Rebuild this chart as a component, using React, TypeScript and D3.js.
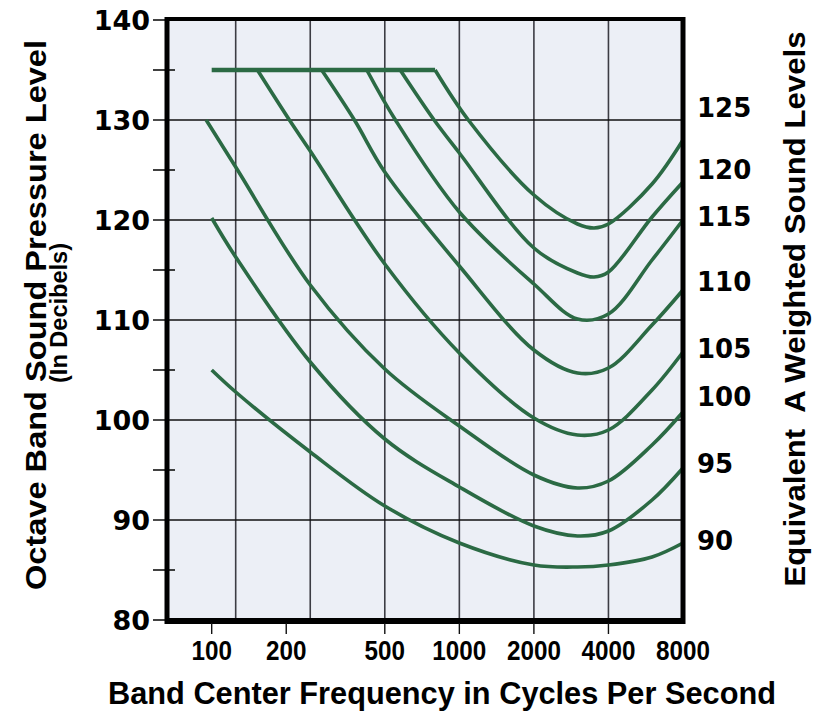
import { useEffect, useRef } from "react";
import * as d3 from "d3";

type Pt = [number, number];

const W = 813;
const H = 715;

// axes
const freqTicks = [100, 200, 500, 1000, 2000, 4000, 8000];
const freqGrid = [125, 250, 500, 1000, 2000, 4000];
const dbMajor = [80, 90, 100, 110, 120, 130, 140];
const dbMinor = [85, 95, 105, 115, 125, 135];

// equivalent A weighted level of each contour, and the left-scale dB where its label sits
const levels = [90, 95, 100, 105, 110, 115, 120, 125];
const levelLabelAt = [87.9, 95.6, 102.3, 107.1, 113.8, 120.3, 125.0, 131.2];

// 135 dB cap shared by the upper contours
const capLine: Pt[] = [
  [100, 135],
  [798, 135],
];

// contours: [frequency Hz, octave band level dB]
const c90: Pt[] = [
  [100, 105], [125, 102.8], [250, 96.8], [500, 91.4], [1000, 87.7],
  [2000, 85.5], [3000, 85.3], [4000, 85.5], [6000, 86.3], [8000, 87.7],
];
const c95: Pt[] = [
  [100, 120.2], [125, 116.3], [250, 105.8], [500, 98.1], [1000, 93.3],
  [2000, 89.4], [3000, 88.4], [4000, 88.9], [6000, 92.0], [8000, 95.2],
];
const c100: Pt[] = [
  [95, 130], [125, 125.3], [250, 113.5], [500, 105.1], [1000, 99.4],
  [2000, 94.5], [3000, 93.2], [4000, 93.9], [6000, 97.5], [8000, 100.8],
];
const c105: Pt[] = [
  [153, 135], [206, 130], [250, 126.9], [500, 115.6], [1000, 106.7],
  [2000, 100.2], [3000, 98.5], [4000, 99.0], [6000, 103.0], [8000, 106.8],
];
const c110: Pt[] = [
  [278, 135], [377, 130], [500, 124.8], [1000, 115.4], [2000, 107.0],
  [3000, 104.7], [4000, 105.2], [6000, 109.5], [8000, 113.0],
];
const c115: Pt[] = [
  [423, 135], [552, 130], [1000, 120.8], [2000, 113.6], [3000, 110.1],
  [4000, 110.6], [6000, 116.0], [8000, 120.0],
];
const c120: Pt[] = [
  [577, 135], [791, 130], [1000, 126.7], [2000, 117.2], [3000, 114.7],
  [3500, 114.3], [4000, 114.8], [6000, 120.3], [8000, 123.8],
];
const c125: Pt[] = [
  [798, 135], [1087, 130], [2000, 122.5], [3000, 119.6], [3500, 119.2],
  [4000, 119.6], [6000, 123.6], [8000, 128.0],
];

const contours = [c90, c95, c100, c105, c110, c115, c120, c125];

const GREEN = "#2b6a44";
const boldWide = "'DejaVu Sans', Verdana, sans-serif";
const narrow = "'Liberation Sans Narrow', 'Liberation Sans', Arial, sans-serif";
const plain = "'Liberation Sans', Arial, sans-serif";

export default function App() {
  const ref = useRef<SVGSVGElement | null>(null);

  useEffect(() => {
    document.body.style.margin = "0";
    if (!ref.current) return;
    const svg = d3.select(ref.current);
    svg.selectAll("*").remove();

    const x = d3.scaleLog().domain([66, 8000]).range([167, 683]);
    const y = d3.scaleLinear().domain([80, 140]).range([620, 20]);
    const [x0, x1] = x.range();
    const [y0, y1] = y.range();

    svg.append("rect").attr("width", W).attr("height", H).attr("fill", "#ffffff");
    svg
      .append("rect")
      .attr("x", x0)
      .attr("y", y1)
      .attr("width", x1 - x0)
      .attr("height", y0 - y1)
      .attr("fill", "#eceff6");

    // vertical grid at octave band centres
    svg
      .append("g")
      .selectAll("line")
      .data(freqGrid)
      .join("line")
      .attr("x1", (d) => x(d))
      .attr("x2", (d) => x(d))
      .attr("y1", y1)
      .attr("y2", y0)
      .attr("stroke", "#3c3c44")
      .attr("stroke-width", 1.6);

    // horizontal grid, carried out past the left border as major ticks
    svg
      .append("g")
      .selectAll("line")
      .data(dbMajor)
      .join("line")
      .attr("x1", x0 - 14)
      .attr("x2", (d) => (d === 80 || d === 140 ? x0 : x1))
      .attr("y1", (d) => y(d))
      .attr("y2", (d) => y(d))
      .attr("stroke", "#111")
      .attr("stroke-width", 1.6);

    svg
      .append("g")
      .selectAll("line")
      .data(dbMinor)
      .join("line")
      .attr("x1", x0 - 14)
      .attr("x2", x0 + 8)
      .attr("y1", (d) => y(d))
      .attr("y2", (d) => y(d))
      .attr("stroke", "#111")
      .attr("stroke-width", 1.6);

    // contours
    const line = d3
      .line<Pt>()
      .x((d) => x(d[0]))
      .y((d) => y(d[1]))
      .curve(d3.curveCatmullRom.alpha(0.5));

    svg
      .append("path")
      .datum(capLine)
      .attr("fill", "none")
      .attr("stroke", GREEN)
      .attr("stroke-width", 4.5)
      .attr("d", d3.line<Pt>().x((d) => x(d[0])).y((d) => y(d[1])));

    svg
      .append("g")
      .selectAll("path")
      .data(contours)
      .join("path")
      .attr("fill", "none")
      .attr("stroke", GREEN)
      .attr("stroke-width", 3.6)
      .attr("stroke-linejoin", "round")
      .attr("d", (d) => line(d));

    // frame
    const frame = svg.append("g").attr("stroke", "#000");
    frame.append("line").attr("x1", x0).attr("x2", x0).attr("y1", y1 - 3).attr("y2", y0 + 4).attr("stroke-width", 5);
    frame.append("line").attr("x1", x1).attr("x2", x1).attr("y1", y1 - 3).attr("y2", y0 + 4).attr("stroke-width", 5);
    frame.append("line").attr("x1", x0 - 2).attr("x2", x1 + 2).attr("y1", y1 - 1).attr("y2", y1 - 1).attr("stroke-width", 4);
    frame.append("line").attr("x1", x0 - 2).attr("x2", x1 + 2).attr("y1", y0 + 1).attr("y2", y0 + 1).attr("stroke-width", 6);

    // ticks under the frequency axis
    svg
      .append("g")
      .selectAll("line")
      .data(freqTicks.slice(0, -1))
      .join("line")
      .attr("x1", (d) => x(d))
      .attr("x2", (d) => x(d))
      .attr("y1", y0 + 3)
      .attr("y2", y0 + 14)
      .attr("stroke", "#111")
      .attr("stroke-width", 1.4);

    // left tick labels
    svg
      .append("g")
      .selectAll("text")
      .data(dbMajor)
      .join("text")
      .attr("x", x0 - 17)
      .attr("y", (d) => y(d))
      .attr("dy", "0.36em")
      .attr("text-anchor", "end")
      .attr("font-family", boldWide)
      .attr("font-weight", "bold")
      .attr("font-size", 27)
      .text((d) => d);

    // contour labels on the right
    svg
      .append("g")
      .selectAll("text")
      .data(levels)
      .join("text")
      .attr("x", 697)
      .attr("y", (_, i) => y(levelLabelAt[i]))
      .attr("dy", "0.36em")
      .attr("font-family", boldWide)
      .attr("font-weight", "bold")
      .attr("font-size", 26)
      .text((d) => d);

    // frequency labels
    svg
      .append("g")
      .selectAll("text")
      .data(freqTicks)
      .join("text")
      .attr("x", (d) => x(d))
      .attr("y", 660)
      .attr("text-anchor", "middle")
      .attr("font-family", narrow)
      .attr("font-weight", "bold")
      .attr("font-size", 27)
      .attr("textLength", (d) => String(d).length * 13.5)
      .attr("lengthAdjust", "spacingAndGlyphs")
      .text((d) => d);

    // axis titles
    svg
      .append("text")
      .attr("x", 442)
      .attr("y", 704)
      .attr("text-anchor", "middle")
      .attr("font-family", narrow)
      .attr("font-weight", "bold")
      .attr("font-size", 31)
      .attr("textLength", 668)
      .attr("lengthAdjust", "spacingAndGlyphs")
      .text("Band Center Frequency in Cycles Per Second");

    svg
      .append("text")
      .attr("transform", "translate(46,315) rotate(-90)")
      .attr("text-anchor", "middle")
      .attr("font-family", narrow)
      .attr("font-weight", "bold")
      .attr("font-size", 29)
      .attr("textLength", 550)
      .attr("lengthAdjust", "spacingAndGlyphs")
      .text("Octave Band Sound Pressure Level");

    svg
      .append("text")
      .attr("transform", "translate(67,313) rotate(-90)")
      .attr("text-anchor", "middle")
      .attr("font-family", narrow)
      .attr("font-weight", "bold")
      .attr("font-size", 23)
      .attr("textLength", 140)
      .attr("lengthAdjust", "spacingAndGlyphs")
      .text("(In Decibels)");

    svg
      .append("text")
      .attr("transform", "translate(805,309) rotate(-90)")
      .attr("text-anchor", "middle")
      .attr("font-family", plain)
      .attr("font-weight", "bold")
      .attr("font-size", 29)
      .attr("textLength", 555)
      .attr("lengthAdjust", "spacingAndGlyphs")
      .attr("xml:space", "preserve")
      .style("white-space", "pre")
      .text("Equivalent  A Weighted Sound Levels");
  }, []);

  return <svg ref={ref} width={W} height={H} style={{ display: "block" }} />;
}
